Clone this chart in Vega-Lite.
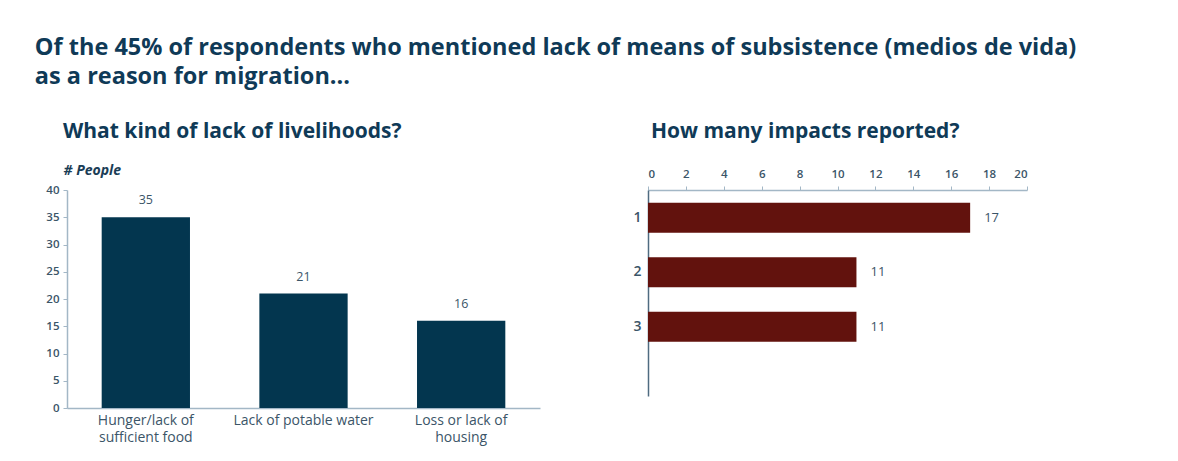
{
  "$schema": "https://vega.github.io/schema/vega-lite/v6.json",
  "background": "white",
  "padding": {"left": 34, "top": 35, "right": 5, "bottom": 5},
  "title": {
    "text": ["Of the 45% of respondents who mentioned lack of means of subsistence (medios de vida)", "as a reason for migration..."],
    "anchor": "start",
    "frame": "bounds",
    "font": "Open Sans",
    "fontSize": 23.5,
    "fontWeight": "bold",
    "color": "#0f3a57",
    "lineHeight": 29,
    "offset": 33,
    "dx": -11
  },
  "datasets": {
    "livelihoods": [
      {"type": "Hunger/lack of sufficient food", "people": 35},
      {"type": "Lack of potable water", "people": 21},
      {"type": "Loss or lack of housing", "people": 16}
    ],
    "impacts": [
      {"impacts": "1", "count": 17},
      {"impacts": "2", "count": 11},
      {"impacts": "3", "count": 11}
    ]
  },
  "spacing": 92,
  "hconcat": [
    {
      "width": 473,
      "height": 218,
      "title": {"text": "What kind of lack of livelihoods?", "anchor": "start", "frame": "group", "dx": -4, "font": "Open Sans", "fontSize": 21, "fontWeight": "bold", "color": "#0f3a57", "offset": 21},
      "data": {"name": "livelihoods"},
      "encoding": {
        "x": {
          "field": "type", "type": "nominal", "sort": null,
          "scale": {"paddingInner": 0.44, "paddingOuter": 0.22},
          "axis": {
            "title": null, "labelAngle": 0, "ticks": false,
            "labelExpr": "datum.value == 'Hunger/lack of sufficient food' ? ['Hunger/lack of', 'sufficient food'] : datum.value == 'Loss or lack of housing' ? ['Loss or lack of', 'housing'] : datum.value",
            "labelFontSize": 14, "labelLineHeight": 17, "labelPadding": 5, "labelColor": "#3b5568"
          }
        },
        "y": {
          "field": "people", "type": "quantitative",
          "scale": {"domain": [0, 40]},
          "axis": {
            "title": "# People", "titleAngle": 0, "titleAlign": "left", "titleBaseline": "alphabetic",
            "titleX": -4, "titleY": -16, "titleFontStyle": "italic", "titleFontWeight": "bold",
            "titleFontSize": 14, "titleColor": "#1a3d56", "titleFont": "Open Sans",
            "values": [0, 5, 10, 15, 20, 25, 30, 35, 40], "grid": false,
            "labelFontSize": 11.5, "labelFontWeight": 600, "labelColor": "#3b5568", "tickSize": 4, "labelPadding": 4
          }
        }
      },
      "layer": [
        {"mark": {"type": "bar", "color": "#03364f"}},
        {"mark": {"type": "text", "dy": -17, "fontSize": 12.5, "fontWeight": 500, "color": "#3b5568"}, "encoding": {"text": {"field": "people", "type": "quantitative"}}}
      ]
    },
    {
      "width": 379,
      "height": 206,
      "title": {"text": "How many impacts reported?", "anchor": "start", "frame": "group", "dx": 3, "font": "Open Sans", "fontSize": 21, "fontWeight": "bold", "color": "#0f3a57", "offset": 26},
      "data": {"name": "impacts"},
      "encoding": {
        "y": {
          "field": "impacts", "type": "ordinal",
          "scale": {"paddingInner": 0.45, "paddingOuter": 0.615, "align": 0.19},
          "axis": {"title": null, "ticks": false, "labelFontSize": 14, "labelFontWeight": 600, "labelPadding": 7, "labelColor": "#3b5568", "domainColor": "#4f6b80"}
        },
        "x": {
          "field": "count", "type": "quantitative",
          "scale": {"domain": [0, 20]},
          "axis": {"orient": "top", "title": null, "values": [0, 2, 4, 6, 8, 10, 12, 14, 16, 18, 20], "grid": false, "labelFontSize": 11.5, "labelFontWeight": 600, "labelColor": "#3b5568", "tickSize": 4, "labelPadding": 7}
        }
      },
      "layer": [
        {"mark": {"type": "bar", "color": "#62120d"}},
        {"mark": {"type": "text", "align": "left", "dx": 14, "fontSize": 13, "fontWeight": 500, "color": "#3b5568"}, "encoding": {"text": {"field": "count", "type": "quantitative"}}}
      ]
    }
  ],
  "config": {
    "font": "Open Sans",
    "view": {"stroke": null},
    "axis": {"domainColor": "#a3b7c6", "tickColor": "#a3b7c6", "domainWidth": 1.5, "labelFont": "Open Sans"}
  }
}
